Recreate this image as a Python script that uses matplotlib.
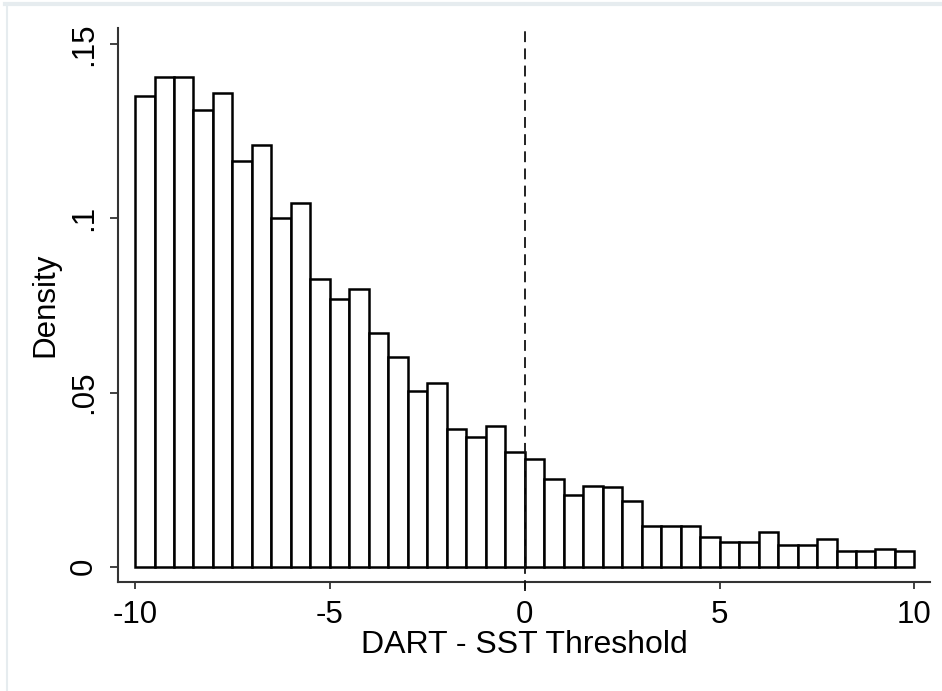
import numpy as np
import matplotlib
matplotlib.use("Agg")
import matplotlib.pyplot as plt
from matplotlib.lines import Line2D

# Histogram of DART - SST threshold, bin width 0.5 from -10 to 10
bin_start = -10.0
bin_width = 0.5
density = [
    0.1350, 0.1405, 0.1405, 0.1310, 0.1360, 0.1165, 0.1212, 0.1000,
    0.1045, 0.0826, 0.0768, 0.0797, 0.0672, 0.0602, 0.0504, 0.0528,
    0.0395, 0.0372, 0.0405, 0.0330, 0.0309, 0.0252, 0.0206, 0.0233,
    0.0229, 0.0188, 0.0118, 0.0118, 0.0118, 0.0084, 0.0072, 0.0072,
    0.0101, 0.0062, 0.0062, 0.0079, 0.0044, 0.0044, 0.0051, 0.0044,
]
threshold = 0.0

x_ticks = [-10, -5, 0, 5, 10]
x_labels = ["-10", "-5", "0", "5", "10"]
y_ticks = [0, 0.05, 0.10, 0.15]
y_labels = ["0", ".05", ".1", ".15"]

plt.rcParams["font.family"] = ["Liberation Sans", "DejaVu Sans"]

fig = plt.figure(figsize=(9.42, 6.91), dpi=100)
ax = fig.add_axes([0.1253, 0.1577, 0.862, 0.802])

bin_left = bin_start + bin_width * np.arange(len(density))
ax.bar(bin_left, density, width=bin_width, align="edge",
       color="white", edgecolor="black", linewidth=1.8, zorder=2)

# dashed reference line at the threshold
ax.axvline(threshold, ymin=-0.016, ymax=0.996, color="#111111",
           linestyle=(0, (6, 3.5)), linewidth=1.3, clip_on=False, zorder=3)

ax.set_xlim(-10.436, 10.40)
ax.set_ylim(-0.0044, 0.1547)

ax.set_xticks(x_ticks)
ax.set_xticklabels(x_labels)
ax.set_yticks(y_ticks)
ax.set_yticklabels(y_labels, rotation=90, va="center")

for side in ["top", "right"]:
    ax.spines[side].set_visible(False)
for side in ["left", "bottom"]:
    ax.spines[side].set_linewidth(1.5)
    ax.spines[side].set_color("#333333")

ax.tick_params(axis="x", length=5, width=1.3, color="#333333", pad=8,
               labelsize=22.5)
ax.tick_params(axis="y", length=5.8, width=1.3, color="#333333", pad=8,
               labelsize=22.5)

ax.set_xlabel("DART - SST Threshold", fontsize=23, labelpad=0)
ax.set_ylabel("Density", fontsize=22.5, labelpad=6)

# light frame along the top and left edges of the screenshot
fig.add_artist(Line2D([5 / 942, 1], [1 - 4 / 691, 1 - 4 / 691],
                      transform=fig.transFigure, color="#e6ecef", linewidth=3))
fig.add_artist(Line2D([6.5 / 942, 6.5 / 942], [0, 1 - 4 / 691],
                      transform=fig.transFigure, color="#e6ecef", linewidth=1.5))

fig.savefig("out.png", dpi=100)
